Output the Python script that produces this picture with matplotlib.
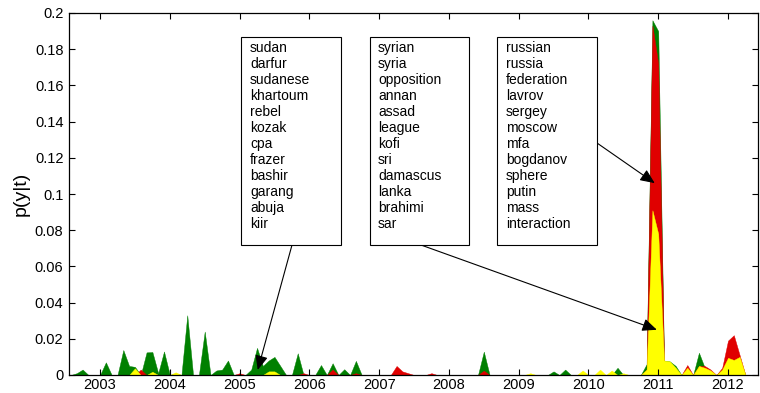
import numpy as np
import matplotlib
matplotlib.use("Agg")
import matplotlib.pyplot as plt
from matplotlib.patches import Rectangle

plt.rcParams['font.family'] = ['Liberation Sans', 'DejaVu Sans']

# Monthly topic probabilities p(y|t), starting August 2002
start_year, start_month = 2002, 8

green = [
    0, 0.001, 0.003, 0, 0,                                                    # 2002 Aug-Dec
    0, 0.007, 0, 0, 0.0138, 0.005, 0.0045, 0, 0.0125, 0.0127, 0.001, 0.013,   # 2003
    0, 0.001, 0, 0.033, 0, 0, 0.024, 0, 0.0025, 0.003, 0.008, 0,              # 2004
    0, 0, 0.003, 0.015, 0.005, 0.008, 0.010, 0.005, 0, 0, 0.012, 0,           # 2005
    0, 0, 0.0055, 0, 0.0065, 0, 0.0032, 0, 0.0078, 0, 0, 0,                   # 2006
    0, 0, 0, 0, 0, 0, 0, 0, 0, 0, 0, 0,                                       # 2007
    0, 0, 0, 0, 0, 0, 0.0129, 0, 0, 0, 0, 0,                                  # 2008
    0, 0, 0, 0, 0, 0, 0.002, 0, 0.003, 0, 0, 0,                               # 2009
    0, 0, 0, 0, 0, 0.004, 0, 0, 0, 0, 0.006, 0.196,                           # 2010
    0.19, 0.008, 0.0075, 0.005, 0, 0.003, 0, 0.0123, 0.004, 0.002, 0, 0.003,  # 2011
    0.008, 0.007, 0.009, 0,                                                   # 2012 Jan-Apr
]

red = [
    0, 0, 0, 0, 0,
    0, 0, 0, 0, 0, 0, 0, 0.003, 0, 0, 0, 0,
    0, 0, 0, 0, 0, 0, 0, 0, 0, 0, 0, 0,
    0.001, 0, 0, 0, 0, 0, 0, 0, 0, 0, 0, 0.001,
    0, 0, 0, 0, 0.003, 0, 0, 0, 0.001, 0, 0, 0,
    0, 0, 0, 0.005, 0.002, 0.001, 0, 0, 0, 0.001, 0, 0,
    0, 0, 0, 0, 0, 0, 0.0024, 0, 0, 0, 0, 0,
    0, 0, 0, 0, 0, 0, 0, 0, 0, 0, 0, 0,
    0, 0, 0, 0, 0, 0, 0, 0, 0, 0, 0.003, 0.193,
    0.172, 0.007, 0.004, 0.002, 0, 0.0055, 0, 0.005, 0.005, 0.003, 0, 0.004,
    0.019, 0.022, 0.011, 0,
]

yellow = [
    0, 0, 0, 0, 0,
    0, 0, 0, 0, 0, 0, 0.0037, 0, 0, 0.0018, 0, 0,
    0, 0.0015, 0, 0, 0, 0, 0, 0, 0, 0, 0, 0,
    0, 0, 0, 0, 0, 0.002, 0.002, 0, 0, 0, 0, 0,
    0, 0, 0, 0, 0, 0, 0, 0, 0, 0, 0, 0,
    0, 0, 0, 0, 0, 0, 0, 0, 0, 0, 0, 0,
    0, 0, 0, 0, 0, 0, 0, 0, 0, 0, 0, 0,
    0, 0, 0.001, 0, 0, 0, 0, 0, 0, 0, 0, 0.0025,
    0, 0, 0.003, 0, 0.0025, 0, 0.001, 0, 0, 0, 0.003, 0.091,
    0.078, 0.008, 0.0075, 0.004, 0, 0.004, 0, 0.005, 0.004, 0.0025, 0, 0.003,
    0.0095, 0.0083, 0.010, 0,
]

year_ticks = [2003, 2004, 2005, 2006, 2007, 2008, 2009, 2010, 2011, 2012]
y_ticks = [0, 0.02, 0.04, 0.06, 0.08, 0.1, 0.12, 0.14, 0.16, 0.18, 0.2]
y_tick_labels = ['0', '0.02', '0.04', '0.06', '0.08', '0.1', '0.12', '0.14',
                 '0.16', '0.18', '0.2']

topic_sudan = ['sudan', 'darfur', 'sudanese', 'khartoum', 'rebel', 'kozak',
               'cpa', 'frazer', 'bashir', 'garang', 'abuja', 'kiir']
topic_syria = ['syrian', 'syria', 'opposition', 'annan', 'assad', 'league',
               'kofi', 'sri', 'damascus', 'lanka', 'brahimi', 'sar']
topic_russia = ['russian', 'russia', 'federation', 'lavrov', 'sergey', 'moscow',
                'mfa', 'bogdanov', 'sphere', 'putin', 'mass', 'interaction']

n = len(green)
t = start_year + (start_month - 1) / 12 + np.arange(n) / 12

W, H = 760, 393
fig = plt.figure(figsize=(W / 100, H / 100), dpi=100)
ax = fig.add_axes([69 / W, 1 - 375 / H, (758 - 69) / W, (375 - 13) / H])

for vals, col in [(green, '#008000'), (red, '#e00000'), (yellow, '#ffff00')]:
    ax.fill_between(t, 0, vals, facecolor=col, edgecolor=col, lw=0.3)

ax.set_xlim(2002.555, 2012.43)
ax.set_ylim(0, 0.2)
ax.set_xticks(year_ticks)
ax.set_xticklabels([str(y) for y in year_ticks])
ax.set_yticks(y_ticks)
ax.set_yticklabels(y_tick_labels)
ax.tick_params(direction='in', top=True, right=True, length=4, width=0.8,
               labelsize=10.5)
ax.tick_params(axis='x', pad=2.5)
ax.tick_params(axis='y', pad=4)
for s in ax.spines.values():
    s.set_linewidth(0.9)
ax.set_ylabel('p(y|t)', fontsize=14, labelpad=4)

# word boxes with arrows pointing at the topic peaks
boxes = [
    (topic_sudan, 241, 341, 250, (292, 245), (2005.26, 0.0028)),
    (topic_syria, 370, 469, 378, (421, 245), (2010.98, 0.025)),
    (topic_russia, 497, 597, 506, (597, 143), (2010.95, 0.106)),
]
for words, x0, x1, xt, tail, tip in boxes:
    fig.patches.append(Rectangle((x0 / W, 1 - 245 / H), (x1 - x0) / W, (245 - 37) / H,
                                 transform=fig.transFigure, facecolor='white',
                                 edgecolor='black', lw=0.8, zorder=5))
    for k, w in enumerate(words):
        fig.text(xt / W, 1 - (48 + 16 * k) / H, w, fontsize=10, va='center',
                 ha='left', zorder=6)
    ax.annotate('', xy=tip, xycoords='data',
                xytext=(tail[0], H - tail[1]), textcoords='figure pixels',
                arrowprops=dict(arrowstyle='-|>,head_length=0.8,head_width=0.35',
                                mutation_scale=11, lw=0.8, color='black',
                                shrinkA=0, shrinkB=0),
                annotation_clip=False)

fig.savefig('out.png', dpi=100)
